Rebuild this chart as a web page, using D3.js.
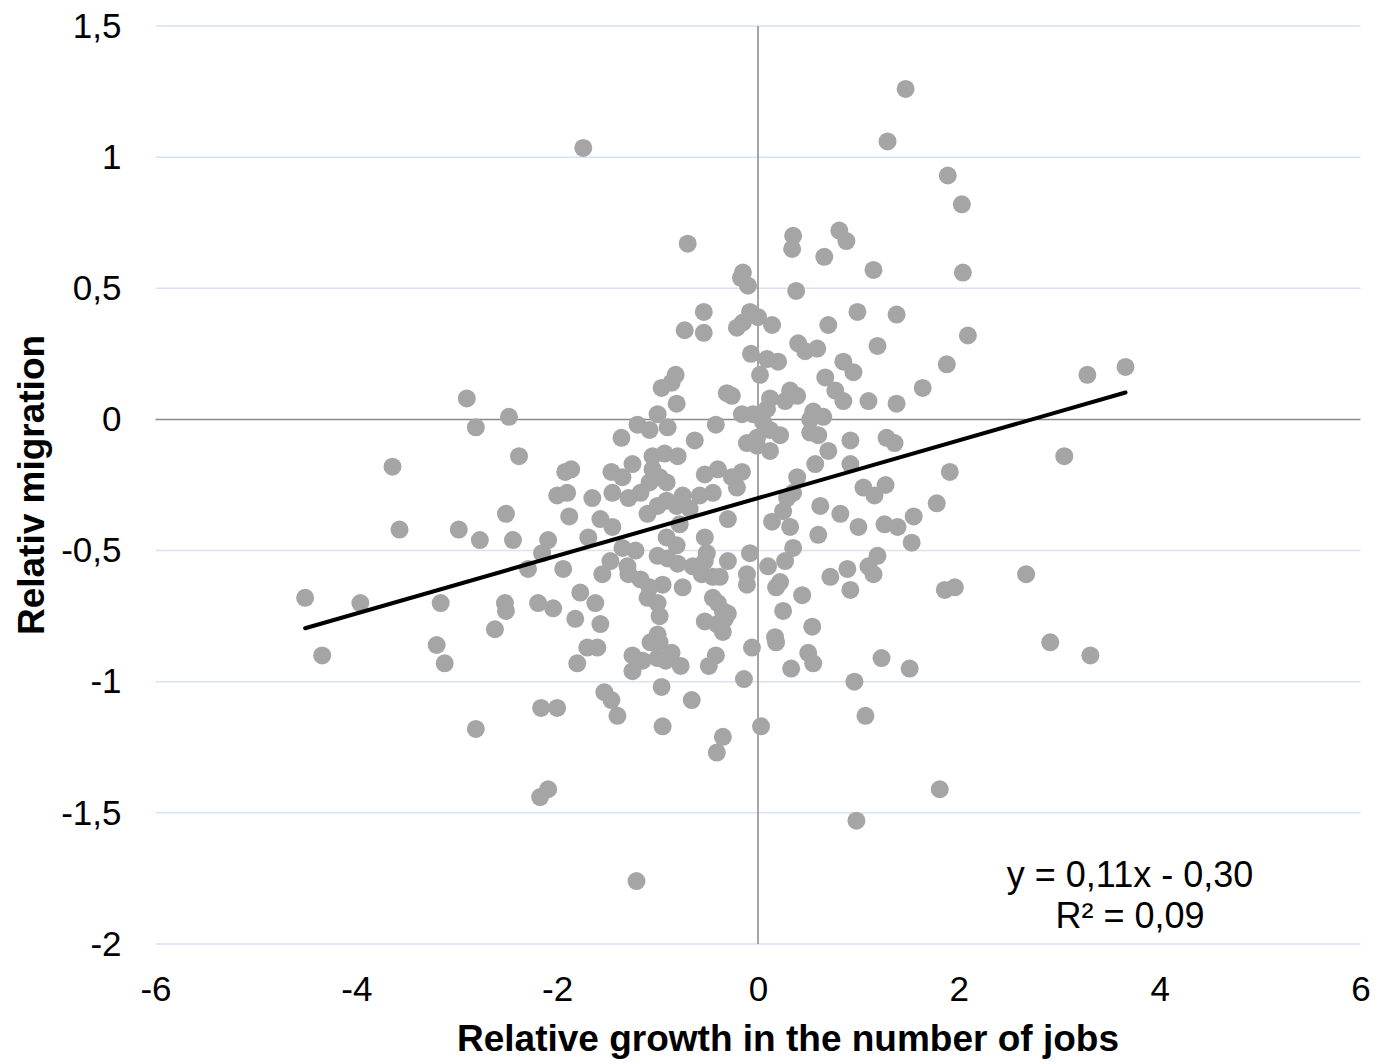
<!DOCTYPE html>
<html lang="en">
<head>
  <meta charset="UTF-8">
  <title>Relative migration vs job growth</title>
  <script src="https://d3js.org/d3.v7.min.js"></script>
  <style>
    body {
      margin: 0;
      padding: 0;
      background-color: #fff;
      font-family: "Liberation Sans", Arial, sans-serif;
    }
    .tick text {
      font-family: "Liberation Sans", Arial, sans-serif;
      font-size: 35px;
      fill: #000;
    }
  </style>
</head>
<body>
  <svg id="chart"></svg>
  <script>
    // Tick values on both axes
    const xTicks = [-6, -4, -2, 0, 2, 4, 6];
    const yTicks = [-2, -1.5, -1, -0.5, 0, 0.5, 1, 1.5];

    // Relative growth in the number of jobs (x) for each municipality
    const xs = [
      1.47, 1.29, -1.74, 1.89, 2.03, 0.35, 0.34, 0.81, 0.88, 0.66,
      -0.70, 1.15, 2.04, 0.38, -0.15, -0.17, -0.10, -0.54, 0.99, 1.38,
      2.09, -0.73, -0.54, -0.21, -0.08, 0.00, 0.14, -0.15, 0.70, 0.40,
      0.47, 0.59, -0.07, 0.09, 0.20, 0.02, 1.19, 1.88, 0.85, 0.95,
      0.67, 1.64, 0.32, 0.39, 0.27, 0.12, 0.77, 0.85, 1.10, 1.38,
      0.09, -0.05, 0.55, 0.65, 0.52, 0.05, 0.12, 0.22, -0.01, 0.52,
      0.60, -0.01, 0.12, 0.92, 1.28, 1.36, 0.70, 0.57, 0.92, 0.39,
      1.05, 1.27, 1.91, 3.28, 3.66, 3.05, 2.67, 1.96, 1.86, 1.78,
      2.91, 3.31, 1.81, 0.98, -1.21, 1.51, 1.23, 0.96, 1.07, 0.03,
      -0.35, -0.41, -0.95, -1.40, -1.46, -1.53, -0.96, -0.66, -2.00, -2.09,
      -2.17, -2.16, -2.81, -4.34, -3.20, -3.12, -1.70, -1.60, -1.80, -1.25,
      -1.07, -0.98, -1.15, -1.00, -0.92, -0.86, -0.77, -1.25, -0.49, -0.42,
      -0.06, 0.18, -0.14, 0.33, 0.50, 0.55, -2.90, -2.81, -2.48, -2.38,
      -3.64, -3.57, -2.98, -2.77, -2.51, -2.44, -2.09, -2.15, -2.29, -4.51,
      -3.96, -3.16, -2.52, -2.51, -2.19, -2.62, -0.82, -0.96, -0.86, -0.81,
      -0.31, -0.26, -1.00, -1.20, -1.08, -0.90, -1.36, -0.42, -0.16, -0.63,
      -0.11, -1.86, -1.92, -1.46, -1.35, -1.25, -1.05, -0.93, -0.80, -1.05,
      -0.98, -1.08, -0.91, -0.53, -0.40, -0.26, -0.16, -2.00, -1.90, -1.65,
      -1.45, -1.29, -1.17, -1.10, -1.00, -0.91, -0.75, -0.58, -0.45, -0.21,
      -0.81, -0.68, -1.88, -1.57, -1.45, -1.69, -0.30, -0.78, -0.91, -0.81,
      -0.53, -1.35, -1.22, -1.47, -1.30, -1.00, -0.90, -0.80, -0.65, -0.51,
      -0.53, -0.30, -1.94, -1.55, -1.29, -1.17, -0.95, -0.56, -0.45, -0.38,
      -0.11, -1.08, -0.75, -0.11, -1.77, -1.10, -1.00, -0.45, -0.40, -1.62,
      -2.04, -0.35, -0.30, -1.82, -0.98, -0.53, -0.41, -0.33, -1.57, -1.00,
      -0.35, 0.29, 0.35, 1.16, 0.62, 0.82, 0.14, 0.32, 0.25, 1.00,
      1.26, 1.39, 1.55, 0.60, 1.53, -0.08, 0.35, 0.27, 0.10, 0.89,
      1.19, 1.10, 1.15, 0.72, 0.22, 0.18, 0.92, 0.44, 0.25, 0.54,
      0.17
    ];

    // Relative migration (y) for the same municipalities
    const ys = [
      1.26, 1.06, 1.035, 0.93, 0.82, 0.70, 0.65, 0.72, 0.68, 0.62,
      0.67, 0.57, 0.56, 0.49, 0.56, 0.54, 0.51, 0.41, 0.41, 0.40,
      0.32, 0.34, 0.33, 0.35, 0.41, 0.39, 0.36, 0.37, 0.36, 0.29,
      0.26, 0.27, 0.25, 0.23, 0.22, 0.17, 0.28, 0.21, 0.22, 0.18,
      0.16, 0.12, 0.11, 0.09, 0.07, 0.08, 0.11, 0.07, 0.07, 0.06,
      0.04, 0.02, 0.03, 0.01, 0.00, -0.01, -0.04, -0.06, -0.07, -0.05,
      -0.06, -0.10, -0.12, -0.08, -0.07, -0.09, -0.12, -0.17, -0.17, -0.22,
      -0.26, -0.25, -0.20, 0.17, 0.20, -0.14, -0.59, -0.64, -0.65, -0.32,
      -0.85, -0.90, -1.41, -1.53, -1.76, -0.95, -0.91, -1.00, -1.13, -1.17,
      -1.21, -1.27, -1.17, -1.13, -1.07, -1.04, -1.02, -1.07, -1.10, -1.41,
      -1.44, -1.10, -1.18, -0.90, -0.86, -0.93, -0.87, -0.87, -0.93, -0.90,
      -0.85, -0.85, -0.92, -0.91, -0.92, -0.89, -0.94, -0.96, -0.94, -0.90,
      -0.87, -0.85, -0.99, -0.95, -0.89, -0.93, 0.08, -0.03, 0.01, -0.14,
      -0.18, -0.42, -0.42, -0.46, -0.36, -0.46, -0.46, -0.51, -0.57, -0.68,
      -0.70, -0.70, -0.70, -0.73, -0.70, -0.80, 0.17, 0.12, 0.14, 0.06,
      0.10, 0.09, 0.02, -0.02, -0.04, -0.03, -0.07, -0.02, 0.02, -0.08,
      -0.09, -0.19, -0.20, -0.20, -0.22, -0.17, -0.14, -0.13, -0.14, -0.19,
      -0.22, -0.24, -0.24, -0.21, -0.19, -0.22, -0.20, -0.29, -0.28, -0.30,
      -0.28, -0.30, -0.28, -0.36, -0.33, -0.31, -0.29, -0.29, -0.28, -0.26,
      -0.33, -0.34, -0.37, -0.38, -0.41, -0.45, -0.38, -0.40, -0.45, -0.48,
      -0.45, -0.49, -0.50, -0.54, -0.56, -0.52, -0.53, -0.55, -0.56, -0.51,
      -0.54, -0.54, -0.57, -0.59, -0.59, -0.61, -0.63, -0.59, -0.60, -0.60,
      -0.59, -0.64, -0.64, -0.63, -0.66, -0.68, -0.70, -0.68, -0.70, -0.70,
      -0.72, -0.73, -0.74, -0.76, -0.75, -0.77, -0.78, -0.76, -0.78, -0.82,
      -0.81, -0.30, -0.28, -0.29, -0.33, -0.36, -0.39, -0.41, -0.35, -0.41,
      -0.40, -0.41, -0.37, -0.44, -0.47, -0.51, -0.49, -0.54, -0.56, -0.57,
      -0.52, -0.56, -0.59, -0.60, -0.62, -0.64, -0.65, -0.67, -0.73, -0.79,
      -0.83
    ];

    // Linear trendline as printed on the chart
    const trendSlope = 0.11;
    const trendIntercept = -0.30;
    const trendR2 = 0.09;

    const width = 1383, height = 1064;
    const svg = d3.select("#chart")
      .attr("width", width)
      .attr("height", height)
      .style("display", "block");

    const x = d3.scaleLinear().domain([-6, 6]).range([155.5, 1360.5]);
    const y = d3.scaleLinear().domain([-2, 1.5]).range([944, 26]);

    const comma = d => String(d).replace(".", ",");

    // Horizontal gridlines
    svg.append("g")
      .selectAll("line")
      .data(yTicks.filter(d => d !== 0))
      .join("line")
      .attr("x1", x(-6))
      .attr("x2", x(6))
      .attr("y1", d => y(d))
      .attr("y2", d => y(d))
      .attr("stroke", "#d9e2f3")
      .attr("stroke-width", 1.5);

    // Zero axis lines
    svg.append("line")
      .attr("x1", x(-6)).attr("x2", x(6))
      .attr("y1", y(0)).attr("y2", y(0))
      .attr("stroke", "#888")
      .attr("stroke-width", 1.5);
    svg.append("line")
      .attr("x1", x(0)).attr("x2", x(0))
      .attr("y1", y(1.5)).attr("y2", y(-2))
      .attr("stroke", "#888")
      .attr("stroke-width", 1.5);

    // Tick labels
    const yAxis = svg.append("g")
      .attr("transform", `translate(${x(-6)},0)`)
      .call(d3.axisLeft(y).tickValues(yTicks).tickFormat(comma).tickSize(0).tickPadding(34));
    yAxis.select(".domain").remove();

    const xAxis = svg.append("g")
      .attr("transform", `translate(0,${y(-2)})`)
      .call(d3.axisBottom(x).tickValues(xTicks).tickFormat(comma).tickSize(0).tickPadding(32));
    xAxis.select(".domain").remove();

    // Points
    const points = xs.map((v, i) => ({ x: v, y: ys[i] }));
    svg.append("g")
      .selectAll("circle")
      .data(points)
      .join("circle")
      .attr("cx", d => x(d.x))
      .attr("cy", d => y(d.y))
      .attr("r", 9)
      .attr("fill", "#a5a5a5");

    // Trendline over the range of the data
    const [xMin, xMax] = d3.extent(xs);
    svg.append("line")
      .attr("x1", x(xMin))
      .attr("y1", y(trendSlope * xMin + trendIntercept))
      .attr("x2", x(xMax))
      .attr("y2", y(trendSlope * xMax + trendIntercept))
      .attr("stroke", "#000")
      .attr("stroke-width", 4)
      .attr("stroke-linecap", "round");

    // Trendline equation
    const eq = svg.append("text")
      .attr("x", 1130)
      .attr("y", 887)
      .attr("text-anchor", "middle")
      .attr("font-size", 36)
      .attr("fill", "#000");
    eq.append("tspan").text("y = " + comma(trendSlope.toFixed(2)) + "x - " + comma(Math.abs(trendIntercept).toFixed(2)));
    eq.append("tspan").attr("x", 1130).attr("dy", 41).text("R² = " + comma(trendR2.toFixed(2)));

    // Axis titles
    svg.append("text")
      .attr("x", 788)
      .attr("y", 1051)
      .attr("text-anchor", "middle")
      .attr("font-size", 37)
      .attr("font-weight", "bold")
      .text("Relative growth in the number of jobs");

    svg.append("text")
      .attr("transform", `translate(44,${y(-0.25)}) rotate(-90)`)
      .attr("text-anchor", "middle")
      .attr("font-size", 37)
      .attr("font-weight", "bold")
      .text("Relativ migration");
  </script>
</body>
</html>
